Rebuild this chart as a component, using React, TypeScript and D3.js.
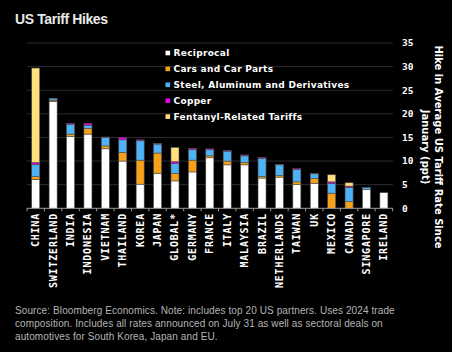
import React from "react";
import * as d3 from "d3";

const categories = ["CHINA", "SWITZERLAND", "INDIA", "INDONESIA", "VIETNAM", "THAILAND", "KOREA", "JAPAN", "GLOBAL*", "GERMANY", "FRANCE", "ITALY", "MALAYSIA", "BRAZIL", "NETHERLANDS", "TAIWAN", "UK", "MEXICO", "CANADA", "SINGAPORE", "IRELAND"];
const reciprocal = [6.1, 22.6, 15.2, 15.7, 12.6, 10.0, 5.1, 7.4, 5.8, 7.7, 10.7, 9.2, 9.2, 6.4, 6.6, 5.0, 5.3, 0, 0, 4.0, 3.3];
const cars = [0.6, 0.3, 0.5, 1.2, 0.6, 1.8, 5.1, 4.3, 1.6, 2.5, 0.4, 0.8, 0.5, 0.3, 0.3, 0.6, 1.0, 3.2, 1.4, 0, 0];
const steel = [2.6, 0.4, 2.1, 0.7, 1.8, 2.7, 4.1, 1.9, 2.1, 2.2, 1.3, 2.1, 1.4, 3.9, 2.3, 2.6, 1.0, 2.1, 3.0, 0.4, 0];
const copper = [0.4, 0, 0.2, 0.4, 0.1, 0.5, 0.2, 0.1, 0.4, 0.3, 0.2, 0.1, 0.2, 0.2, 0.1, 0.2, 0.1, 0.3, 0.3, 0, 0];
const fentanyl = [20.0, 0, 0, 0, 0, 0, 0, 0, 3.0, 0, 0, 0, 0, 0, 0, 0, 0, 1.5, 0.7, 0, 0];

const seriesNames = ["Reciprocal", "Cars and Car Parts", "Steel, Aluminum and Derivatives", "Copper", "Fentanyl-Related Tariffs"];
const seriesColors = ["#ffffff", "#f7a11a", "#4db3f5", "#e600e6", "#ffe17c"];
const yTicks = [0, 5, 10, 15, 20, 25, 30, 35];
const footnote = [
  "Source: Bloomberg Economics. Note: includes top 20 US partners. Uses 2024 trade",
  "composition. Includes all rates announced on July 31 as well as sectoral deals on",
  "automotives for South Korea, Japan and EU.",
];

export default function App() {
  const W = 452, H = 352;
  const x = d3.scaleBand<string>().domain(categories).range([27, 392.6]).paddingInner(0.54).paddingOuter(0.27);
  const y = d3.scaleLinear().domain([0, 35]).range([208.3, 43]);
  const rows = categories.map((c, i) => ({ cat: c, s0: reciprocal[i], s1: cars[i], s2: steel[i], s3: copper[i], s4: fentanyl[i] }));
  const stack = d3.stack<any>().keys(["s0", "s1", "s2", "s3", "s4"])(rows);
  const step = x.step();

  return (
    <svg width={W} height={H} style={{ position: "absolute", left: 0, top: 0, background: "#000" }}>
      <rect x={0} y={0} width={W} height={H} fill="#000" />
      <text x={15} y={24} fill="#e8e8e8" fontFamily="Liberation Sans" fontWeight="bold" fontSize={14} letterSpacing={-0.4}>US Tariff Hikes</text>
      {yTicks.map((t) => (
        <g key={t}>
          {t > 0 && <line x1={27} x2={393} y1={y(t)} y2={y(t)} stroke="#2c2c2c" strokeWidth={1} />}
          <text x={402} y={y(t)} dy="0.35em" fill="#fff" fontFamily="DejaVu Sans Mono" fontWeight="bold" fontSize={9.5}>{t}</text>
        </g>
      ))}
      {stack.map((layer, k) => (
        <g key={k}>
          {layer.map((d, i) => {
            const h = y(d[0]) - y(d[1]);
            if (h <= 0) return null;
            return (
              <rect key={i} x={x(categories[i])!} width={x.bandwidth()} y={y(d[1])} height={h}
                fill={seriesColors[k]} stroke="#505050" strokeWidth={0.6} />
            );
          })}
        </g>
      ))}
      <line x1={27} x2={393} y1={y(0)} y2={y(0)} stroke="#9a9a9a" strokeWidth={1} />
      {d3.range(categories.length + 1).map((i) => (
        <line key={i} x1={27 + i * step} x2={27 + i * step} y1={y(0)} y2={y(0) + 3} stroke="#9a9a9a" strokeWidth={1} />
      ))}
      {categories.map((c) => (
        <text key={c} transform={`translate(${x(c)! + x.bandwidth() / 2},213) rotate(-90)`} dy="0.35em" textAnchor="end"
          fill="#fff" fontFamily="DejaVu Sans Mono" fontWeight="bold" fontSize={10} letterSpacing={0.8}>{c}</text>
      ))}
      {seriesNames.map((n, k) => (
        <g key={n} transform={`translate(165.5,${53 + k * 15.9})`}>
          <rect x={0} y={-2.3} width={4.6} height={4.6} fill={seriesColors[k]} />
          <text x={8} y={0} dy="0.35em" fill="#fff" fontFamily="DejaVu Sans" fontWeight="bold" fontSize={9} letterSpacing={0.3}>{n}</text>
        </g>
      ))}
      <g transform="translate(435,147) rotate(90)">
        <text x={0} y={0} textAnchor="middle" fill="#fff" fontFamily="DejaVu Sans" fontWeight="bold" fontSize={10}>Hike in Average US Tariff Rate Since</text>
        <text x={0} y={13} textAnchor="middle" fill="#fff" fontFamily="DejaVu Sans" fontWeight="bold" fontSize={10}>January (ppt)</text>
      </g>
      {footnote.map((l, i) => (
        <text key={i} x={15} y={313.5 + i * 13} fill="#b4b4b4" fontFamily="Liberation Sans" fontSize={10} letterSpacing={0.1}>{l}</text>
      ))}
    </svg>
  );
}
